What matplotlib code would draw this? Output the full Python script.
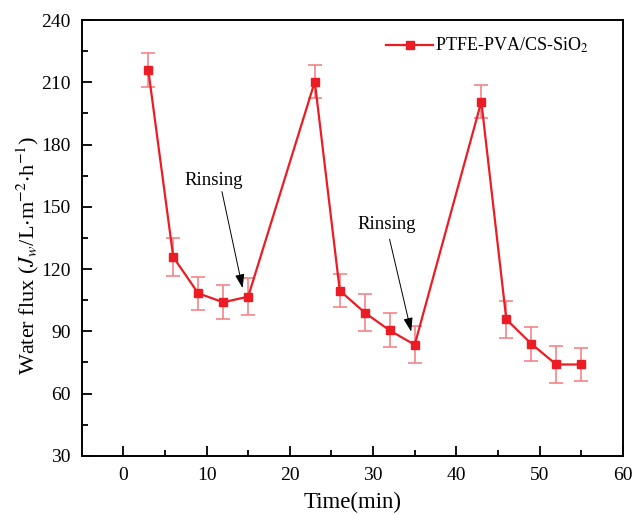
import numpy as np
import matplotlib
matplotlib.use('Agg')
import matplotlib.pyplot as plt
from matplotlib.ticker import MultipleLocator
from matplotlib.lines import Line2D

# Data
time_min = [3, 6, 9, 12, 15, 23, 26, 29, 32, 35, 43, 46, 49, 52, 55]
flux = [216, 125.8, 108.3, 104, 106.7, 210.3, 109.6, 99, 90.4, 83.5,
        200.7, 95.8, 84, 74, 74]
flux_err = [8.2, 9, 8, 8.2, 9, 8, 8, 9, 8.2, 9, 8, 9, 8.2, 9, 8]
series_label = 'PTFE-PVA/CS-SiO$_2$'

# annotations: (text x, text y, arrow tail x, tail y, head x, head y)
rinse_notes = [(10.9, 162.6, 11.85, 157.3, 14.33, 110.8),
               (31.6, 141.3, 31.98, 134.4, 34.58, 89.8)]

plt.rcParams['font.family'] = ['Liberation Serif', 'DejaVu Serif']
plt.rcParams['mathtext.fontset'] = 'stix'

fig = plt.figure(figsize=(6.33, 5.15), dpi=100)
ax = fig.add_axes([0.129, 0.115, 0.855, 0.846])

red = '#ec1c24'
ax.errorbar(time_min, flux, yerr=flux_err, color=red, lw=1.6,
            marker='s', ms=5.5, ecolor='#f27b7f', elinewidth=1.1,
            capsize=5, capthick=1.1)

for tx, ty, ax0, ay0, hx, hy in rinse_notes:
    ax.text(tx, ty, 'Rinsing', fontsize=13.5, ha='center', va='center')
    ax.annotate('', xy=(hx, hy), xytext=(ax0, ay0),
                arrowprops=dict(arrowstyle='-|>,head_length=0.6,head_width=0.2',
                                color='black', lw=0.7,
                                mutation_scale=14, shrinkA=0, shrinkB=0))

ax.set_xlim(-5, 60)
ax.set_ylim(30, 240)
ax.xaxis.set_major_locator(MultipleLocator(10))
ax.xaxis.set_minor_locator(MultipleLocator(5))
ax.yaxis.set_major_locator(MultipleLocator(30))
ax.yaxis.set_minor_locator(MultipleLocator(15))
ax.tick_params(which='both', direction='in', top=False, right=False,
               labelsize=14, width=1.3)
ax.tick_params(which='major', length=7, pad=8)
ax.tick_params(which='minor', length=4)
for sp in ax.spines.values():
    sp.set_linewidth(1.4)

ax.set_xlabel('Time(min)', fontsize=16.5, labelpad=6)
ax.set_ylabel('Water flux ($J_w$/L$\\cdot$m$^{\\mathrm{-2}}$$\\cdot$h$^{\\mathrm{-1}}$)',
              fontsize=16)
ax.yaxis.set_label_coords(-0.075, 0.46)

handle = Line2D([], [], color=red, lw=1.6, marker='s', ms=5.5)
ax.legend([handle], [series_label], loc='upper right',
          bbox_to_anchor=(0.95, 0.98), frameon=False, fontsize=13,
          handlelength=2.6, handletextpad=0.1, borderaxespad=0)

fig.savefig('out.png', dpi=100)
